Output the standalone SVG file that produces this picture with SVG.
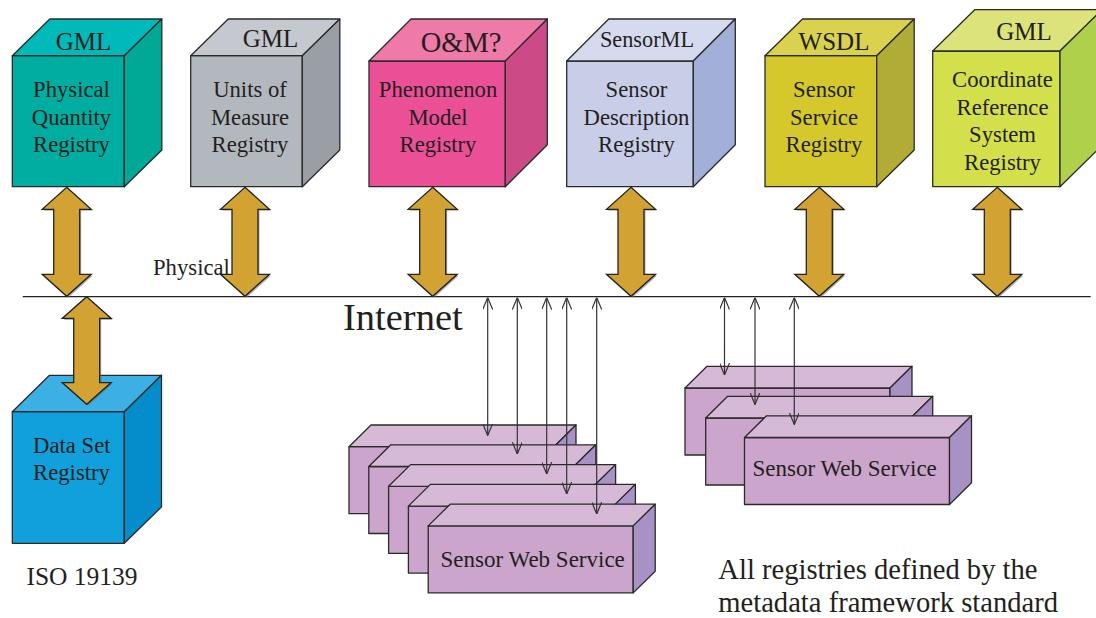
<svg xmlns="http://www.w3.org/2000/svg" xmlns:xlink="http://www.w3.org/1999/xlink" width="1096" height="618" viewBox="0 0 1096 618">
  <style>
    text { font-family: "Liberation Serif", "Times New Roman", serif; fill: #231f20; }
    .edge { stroke: #2a2a2a; stroke-width: 1.3; stroke-linejoin: round; }
    .body { font-size: 22.7px; text-anchor: middle; }
    .cap { font-size: 25px; text-anchor: middle; }
    .link { stroke: #333; stroke-width: 1.2; fill: none; marker-start: url(#open); marker-end: url(#open); }
    .dbl { fill: #d2a332; stroke: #222; stroke-width: 1.3; stroke-linejoin: miter; }
    .dblShadow { fill: #6f6f6f; opacity: 0.55; }
    .sws-front { fill: #cba5cc; }
    .sws-top { fill: #d5b9d7; }
    .sws-side { fill: #a891c5; }
  </style>
  <defs>
    <marker id="open" viewBox="0 0 12 10" refX="12" refY="5" markerWidth="12" markerHeight="10" markerUnits="userSpaceOnUse" orient="auto-start-reverse">
      <path d="M0,0 L12,5 L0,10" fill="none" stroke="#333" stroke-width="1.2"/>
    </marker>
    <!-- gold two-headed block arrow, tip at y=0, tip at y=109 -->
    <path id="dblArrow" d="M0,0 L24.5,22 L13,22 L13,87 L24.5,87 L0,109 L-24.5,87 L-13,87 L-13,22 L-24.5,22 Z"/>
    <!-- sensor web service box: front 205x67, depth 22 -->
    <g id="swsBox">
      <rect class="sws-front edge" x="0" y="0" width="205" height="67"/>
      <polygon class="sws-top edge" points="0,0 22,-21.7 227,-21.7 205,0"/>
      <polygon class="sws-side edge" points="205,0 227,-21.7 227,45.3 205,67"/>
    </g>
  </defs>

  <rect width="1096" height="618" fill="#ffffff"/>

  <!-- registry cubes -->
  <g id="physical-quantity-registry">
    <rect class="edge" x="12.3" y="55.7" width="112" height="131" fill="#00ada0"/>
    <polygon class="edge" points="12.3,55.7 49.8,19 161.8,19 124.3,55.7" fill="#00b9b9"/>
    <polygon class="edge" points="124.3,55.7 161.8,19 161.8,150 124.3,186.7" fill="#00a896"/>
    <text class="cap" x="83.5" y="50">GML</text>
    <text class="body" x="71.5" y="97">Physical</text>
    <text class="body" x="71.5" y="124.5">Quantity</text>
    <text class="body" x="71.5" y="152">Registry</text>
  </g>

  <g id="units-of-measure-registry">
    <rect class="edge" x="190.7" y="55.7" width="111.6" height="131" fill="#b3b8bf"/>
    <polygon class="edge" points="190.7,55.7 228.2,19 339.8,19 302.3,55.7" fill="#c5c8ce"/>
    <polygon class="edge" points="302.3,55.7 339.8,19 339.8,150 302.3,186.7" fill="#9a9fa6"/>
    <text class="cap" x="270.5" y="47">GML</text>
    <text class="body" x="250" y="97">Units of</text>
    <text class="body" x="250" y="124.5">Measure</text>
    <text class="body" x="250" y="152">Registry</text>
  </g>

  <g id="phenomenon-model-registry">
    <rect class="edge" x="369" y="61" width="136.3" height="125.7" fill="#eb5096"/>
    <polygon class="edge" points="369,61 411,19 547.3,19 505.3,61" fill="#ef7aa8"/>
    <polygon class="edge" points="505.3,61 547.3,19 547.3,144.7 505.3,186.7" fill="#cc4b87"/>
    <text class="cap" x="461" y="51.7" style="font-size:28.5px">O&amp;M?</text>
    <text class="body" x="438" y="97">Phenomenon</text>
    <text class="body" x="438" y="124.5">Model</text>
    <text class="body" x="438" y="152">Registry</text>
  </g>

  <g id="sensor-description-registry">
    <rect class="edge" x="566.7" y="61" width="126.6" height="125.7" fill="#c9cee8"/>
    <polygon class="edge" points="566.7,61 608.7,19 735.3,19 693.3,61" fill="#d5daee"/>
    <polygon class="edge" points="693.3,61 735.3,19 735.3,144.7 693.3,186.7" fill="#a2b0d9"/>
    <text class="cap" x="647" y="47" style="font-size:22.3px">SensorML</text>
    <text class="body" x="636.5" y="97">Sensor</text>
    <text class="body" x="636.5" y="124.5">Description</text>
    <text class="body" x="636.5" y="152">Registry</text>
  </g>

  <g id="sensor-service-registry">
    <rect class="edge" x="765" y="55.7" width="111.7" height="131" fill="#d4c82c"/>
    <polygon class="edge" points="765,55.7 802.5,19 914.2,19 876.7,55.7" fill="#dad24f"/>
    <polygon class="edge" points="876.7,55.7 914.2,19 914.2,150 876.7,186.7" fill="#b0ac36"/>
    <text class="cap" x="834" y="50">WSDL</text>
    <text class="body" x="824" y="97">Sensor</text>
    <text class="body" x="824" y="124.5">Service</text>
    <text class="body" x="824" y="152">Registry</text>
  </g>

  <g id="coordinate-reference-system-registry">
    <rect class="edge" x="932.7" y="51" width="127.3" height="135.7" fill="#d3e04b"/>
    <polygon class="edge" points="932.7,51 974.7,9.7 1102,9.7 1060,51" fill="#dce37a"/>
    <polygon class="edge" points="1060,51 1102,9.7 1102,145.4 1060,186.7" fill="#afd04a"/>
    <text class="cap" x="1024" y="40">GML</text>
    <text class="body" x="1002.5" y="87">Coordinate</text>
    <text class="body" x="1002.5" y="114.5">Reference</text>
    <text class="body" x="1002.5" y="142">System</text>
    <text class="body" x="1002.5" y="169.5">Registry</text>
  </g>

  <g id="data-set-registry">
    <rect class="edge" x="12.3" y="411.7" width="112" height="131.6" fill="#10a1dd"/>
    <polygon class="edge" points="12.3,411.7 49.5,375.3 161.5,375.3 124.3,411.7" fill="#3cb0e5"/>
    <polygon class="edge" points="124.3,411.7 161.5,375.3 161.5,506.9 124.3,543.3" fill="#058dcb"/>
    <text class="body" x="71.8" y="453.3">Data Set</text>
    <text class="body" x="71.5" y="480">Registry</text>
  </g>

  <!-- sensor web service stacks -->
  <g id="sws-left-1" transform="translate(349,446.7)"><use xlink:href="#swsBox"/></g>
  <g id="sws-left-2" transform="translate(368.8,466.5)"><use xlink:href="#swsBox"/></g>
  <g id="sws-left-3" transform="translate(388.6,486.3)"><use xlink:href="#swsBox"/></g>
  <g id="sws-left-4" transform="translate(408.4,506.1)"><use xlink:href="#swsBox"/></g>
  <g id="sws-left-5" transform="translate(428.2,525.9)">
    <use xlink:href="#swsBox"/>
    <text x="104.5" y="40.8" style="font-size:23px;text-anchor:middle">Sensor Web Service</text>
  </g>

  <g id="sws-right-1" transform="translate(685,388)"><use xlink:href="#swsBox"/></g>
  <g id="sws-right-2" transform="translate(705.7,418)"><use xlink:href="#swsBox"/></g>
  <g id="sws-right-3" transform="translate(744.5,437.5)">
    <use xlink:href="#swsBox"/>
    <text x="100.2" y="38.5" style="font-size:23px;text-anchor:middle">Sensor Web Service</text>
  </g>

  <!-- connectors -->
  <g id="connectors">
    <line id="internet-backbone" x1="22.7" y1="296.7" x2="1090.7" y2="296.7" stroke="#222" stroke-width="1.3"/>

    <g id="registry-links">
      <use xlink:href="#dblArrow" class="dblShadow" transform="translate(68.2,188.8)"/>
      <use xlink:href="#dblArrow" class="dbl" transform="translate(66.7,187.3)"/>
      <use xlink:href="#dblArrow" class="dblShadow" transform="translate(246.5,188.8)"/>
      <use xlink:href="#dblArrow" class="dbl" transform="translate(245,187.3)"/>
      <use xlink:href="#dblArrow" class="dblShadow" transform="translate(434.2,188.8)"/>
      <use xlink:href="#dblArrow" class="dbl" transform="translate(432.7,187.3)"/>
      <use xlink:href="#dblArrow" class="dblShadow" transform="translate(632.5,188.8)"/>
      <use xlink:href="#dblArrow" class="dbl" transform="translate(631,187.3)"/>
      <use xlink:href="#dblArrow" class="dblShadow" transform="translate(820.8,188.8)"/>
      <use xlink:href="#dblArrow" class="dbl" transform="translate(819.3,187.3)"/>
      <use xlink:href="#dblArrow" class="dblShadow" transform="translate(998.8,188.8)"/>
      <use xlink:href="#dblArrow" class="dbl" transform="translate(997.3,187.3)"/>
      <use xlink:href="#dblArrow" class="dblShadow" transform="translate(88.2,298.2) scale(1,0.987)"/>
      <use xlink:href="#dblArrow" class="dbl" transform="translate(86.7,296.7) scale(1,0.987)"/>
    </g>

    <g id="service-links">
      <line class="link" x1="487.7" y1="297.5" x2="487.7" y2="435.5"/>
      <line class="link" x1="517.3" y1="297.5" x2="517.3" y2="454"/>
      <line class="link" x1="546.7" y1="297.5" x2="546.7" y2="474"/>
      <line class="link" x1="566.7" y1="297.5" x2="566.7" y2="494"/>
      <line class="link" x1="596.7" y1="297.5" x2="596.7" y2="514"/>
      <line class="link" x1="724.5" y1="297.5" x2="724.5" y2="375"/>
      <line class="link" x1="755" y1="297.5" x2="755" y2="404.5"/>
      <line class="link" x1="794.3" y1="297.5" x2="794.3" y2="424.5"/>
    </g>
  </g>

  <!-- free labels -->
  <text x="153" y="275" style="font-size:22.7px">Physical</text>
  <text x="343" y="330" style="font-size:38.5px">Internet</text>
  <text x="82" y="585" style="font-size:25.5px;text-anchor:middle">ISO 19139</text>
  <text x="718.3" y="579.3" style="font-size:28.6px">All registries defined by the</text>
  <text x="718.3" y="611.7" style="font-size:28.6px">metadata framework standard</text>
</svg>
